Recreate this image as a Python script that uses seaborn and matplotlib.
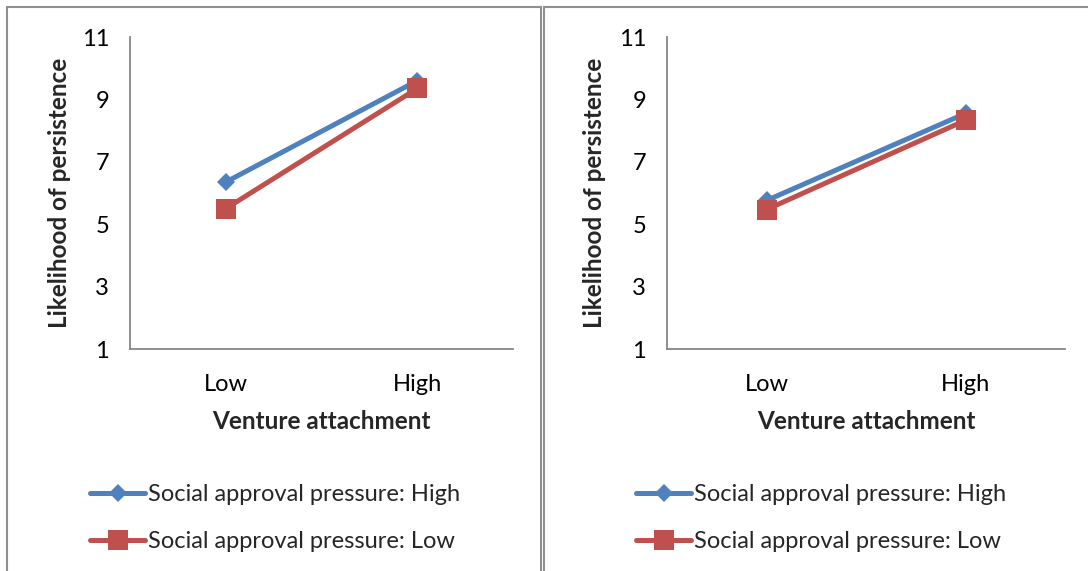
import pandas as pd
import matplotlib
matplotlib.use("Agg")
import matplotlib.pyplot as plt
from matplotlib.lines import Line2D
import seaborn as sns

# Data
ventures = ["Low", "High"]
pressure_levels = ["High", "Low"]
left_high = [6.35, 9.60]
left_low = [5.50, 9.35]
right_high = [5.76, 8.55]
right_low = [5.47, 8.33]
y_ticks = [1, 3, 5, 7, 9, 11]

colors = {"High": "#4F81BD", "Low": "#C0504D"}
markers = {"High": "D", "Low": "s"}
msizes = {"High": 9.5, "Low": 14}

sns.set_style("white")
plt.rcParams["font.family"] = ["Lato", "DejaVu Sans"]

W, H = 1088, 571
fig = plt.figure(figsize=(W / 100, H / 100), dpi=100)


def fx(px):
    return px / W


def fy(py):
    return 1 - py / H


def draw_panel(ax, high_vals, low_vals, leg_x):
    for level, vals in zip(pressure_levels, [high_vals, low_vals]):
        df = pd.DataFrame({"venture": ventures, "value": vals})
        sns.lineplot(data=df, x="venture", y="value", ax=ax, sort=False,
                     color=colors[level], linewidth=3.6, marker=markers[level],
                     markersize=msizes[level], markeredgewidth=0,
                     label=f"Social approval pressure: {level}", legend=False)
    ax.set_xlim(-0.5, 1.5)
    ax.set_ylim(1, 11)
    ax.set_yticks(y_ticks)
    sns.despine(ax=ax)
    for side in ["left", "bottom"]:
        ax.spines[side].set_color("#868686")
        ax.spines[side].set_linewidth(1.3)
    ax.tick_params(axis="both", length=0, labelsize=17, colors="black")
    ax.tick_params(axis="y", pad=15)
    ax.tick_params(axis="x", pad=18)
    ax.set_xlabel("Venture attachment", fontsize=17.5, fontweight="bold")
    ax.set_ylabel("Likelihood of persistence", fontsize=17.5, fontweight="bold")
    ax.xaxis.label.set_va("center")
    ax.yaxis.label.set_va("center")
    ax.xaxis.set_label_coords(0.5, -0.231)
    ax.yaxis.set_label_coords(-0.183, 0.5)
    handles = ax.get_lines()[:2]
    ax.legend(handles=handles,
              labels=[f"Social approval pressure: {p}" for p in pressure_levels],
              loc="upper left", bbox_to_anchor=(fx(leg_x), fy(484)),
              bbox_transform=fig.transFigure, frameon=False, fontsize=17,
              handlelength=2.35, handletextpad=0.12, labelspacing=1.1,
              borderpad=0, borderaxespad=0)


ax1 = fig.add_axes([fx(130), fy(349), fx(513) - fx(130), fy(37) - fy(349)])
ax2 = fig.add_axes([fx(667), fy(349), fx(1065) - fx(667), fy(37) - fy(349)])
draw_panel(ax1, left_high, left_low, 90)
draw_panel(ax2, right_high, right_low, 636)

# panel frames
frame_kw = dict(color="#909090", linewidth=1.5, transform=fig.transFigure)
fig.add_artist(Line2D([fx(7), fx(7)], [fy(7), 0], **frame_kw))
fig.add_artist(Line2D([fx(7), fx(541)], [fy(7), fy(7)], **frame_kw))
fig.add_artist(Line2D([fx(541), fx(541)], [fy(7), 0], **frame_kw))
fig.add_artist(Line2D([fx(544), fx(544)], [fy(7), 0], **frame_kw))
fig.add_artist(Line2D([fx(544), 1], [fy(7), fy(7)], **frame_kw))

fig.savefig("out.png", dpi=100)
